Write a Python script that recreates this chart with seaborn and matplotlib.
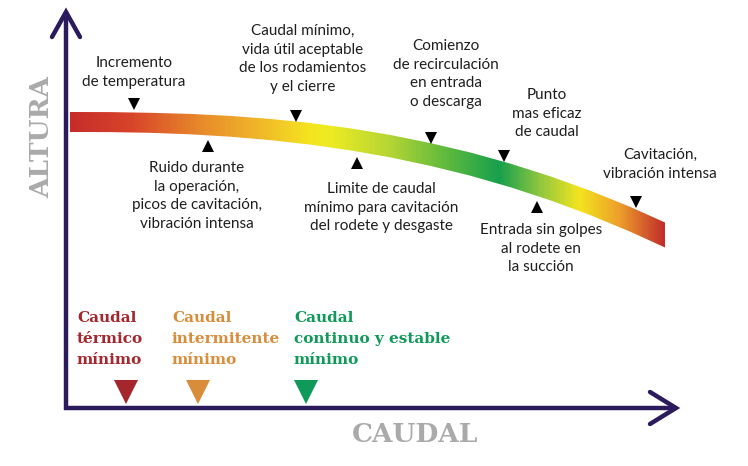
import numpy as np
import pandas as pd
import matplotlib.pyplot as plt
from matplotlib.colors import LinearSegmentedColormap
from matplotlib.patches import Polygon
import seaborn as sns

# curve of the pump (altura vs caudal), read in picture units
curve_x = [70, 110, 150, 190, 230, 270, 310, 350, 390, 430, 470, 510, 550, 590, 630, 665]
curve_y = [122, 122.1, 122.8, 124.1, 126.3, 129.5, 133.8, 139.3, 146.1, 154.4,
           164.0, 175.3, 188.2, 202.8, 219.2, 235]
band_half = [10, 10, 10, 10.2, 10.4, 10.6, 10.8, 11, 11.2, 11.4, 11.6, 11.8, 12, 12.2, 12.4, 12.5]

# colour stops along the curve (caudal position, colour)
grad_pos = [70, 130, 200, 260, 310, 330, 390, 440, 500, 540, 580, 620, 665]
grad_col = ["#c62d2b", "#d8442a", "#e88a2a", "#f0b82a", "#f5e41f", "#eeeb22",
            "#b5d534", "#68bd3c", "#17a04d", "#8cc63f", "#f3e51e", "#eda12a", "#c3302c"]

# notes on the curve
notes = ["Incremento\nde temperatura",
         "Caudal mínimo,\nvida útil aceptable\nde los rodamientos\ny el cierre",
         "Comienzo\nde recirculación\nen entrada\no descarga",
         "Punto\nmas eficaz\nde caudal",
         "Cavitación,\nvibración intensa",
         "Ruido durante\nla operación,\npicos de cavitación,\nvibración intensa",
         "Limite de caudal\nmínimo para cavitación\ndel rodete y desgaste",
         "Entrada sin golpes\nal rodete en\nla succión"]
note_x = [134, 303, 446, 547, 660, 197, 381, 541]
note_y = [56, 24, 39, 88, 148, 161, 182, 223]
marker_x = [134, 296, 431, 504, 636, 208, 357, 537]
marker_y = [104, 116, 138, 156, 202, 146, 163, 207]
marker_dir = ["v", "v", "v", "v", "v", "^", "^", "^"]

# minimum flow marks on the caudal axis
flow_labels = ["Caudal\ntérmico\nmínimo", "Caudal\nintermitente\nmínimo",
               "Caudal\ncontinuo y estable\nmínimo"]
flow_text_x = [77, 172, 294]
flow_x = [126, 198, 306]
flow_colors = ["#a3272d", "#d98c3a", "#0f9a5a"]

AXIS_COLOR = "#2b1a5c"
ORIGIN = (66, 408)
Y_TOP = 12
X_RIGHT = 676


def main():
    sns.set_theme(style="white")
    plt.rcParams['font.family'] = ['Lato', 'DejaVu Sans']

    fig = plt.figure(figsize=(7.48, 4.66), dpi=100)
    ax = fig.add_axes([0, 0, 1, 1])

    # gradient band
    cx = np.array(curve_x, dtype=float)
    cy = np.array(curve_y, dtype=float)
    hw = np.array(band_half, dtype=float)
    verts = list(zip(cx, cy - hw)) + list(zip(cx[::-1], (cy + hw)[::-1]))
    band = Polygon(verts, closed=True, facecolor="none", edgecolor="none")
    ax.add_patch(band)
    stops = [(p - grad_pos[0]) / (grad_pos[-1] - grad_pos[0]) for p in grad_pos]
    cmap = LinearSegmentedColormap.from_list("curve", list(zip(stops, grad_col)))
    grad = np.linspace(0, 1, 600).reshape(1, -1)
    im = ax.imshow(grad, cmap=cmap, aspect="auto",
                   extent=(grad_pos[0], grad_pos[-1], 270, 100))
    im.set_clip_path(band)

    # axes with open arrow heads
    ox, oy = ORIGIN
    ax.plot([ox, ox], [oy + 2, Y_TOP], color=AXIS_COLOR, lw=3.2, solid_capstyle="butt")
    ax.plot([ox - 14, ox, ox + 14], [Y_TOP + 25, Y_TOP, Y_TOP + 25], color=AXIS_COLOR,
            lw=3.2, solid_joinstyle="miter", solid_capstyle="round")
    ax.plot([ox - 1.5, X_RIGHT], [oy, oy], color=AXIS_COLOR, lw=3.2, solid_capstyle="butt")
    ax.plot([X_RIGHT - 26, X_RIGHT, X_RIGHT - 26], [oy - 16, oy, oy + 16], color=AXIS_COLOR,
            lw=3.2, solid_joinstyle="miter", solid_capstyle="round")

    # black markers on the curve
    df = pd.DataFrame({"x": marker_x, "y": marker_y, "dir": marker_dir})
    sns.scatterplot(data=df, x="x", y="y", style="dir", markers={"v": "v", "^": "^"},
                    color="black", s=75, linewidth=0, legend=False, ax=ax, zorder=5)

    for txt, x, y in zip(notes, note_x, note_y):
        ax.text(x, y, txt, ha="center", va="top", fontsize=11, color="#1e1e1e",
                linespacing=1.42)

    # flow marks on the x axis
    fdf = pd.DataFrame({"x": flow_x, "y": [392] * 3, "lab": flow_labels})
    sns.scatterplot(data=fdf, x="x", y="y", hue="lab", palette=flow_colors, marker="v",
                    s=300, linewidth=0, legend=False, ax=ax, zorder=5)
    for txt, x, c in zip(flow_labels, flow_text_x, flow_colors):
        ax.text(x, 311, txt, ha="left", va="top", fontsize=11, color=c,
                family="DejaVu Serif", fontweight="bold", linespacing=1.62)

    ax.text(415, 434, "CAUDAL", ha="center", va="center", fontsize=19, color="#aaaaaa",
            family="DejaVu Serif", fontweight="bold")
    ax.text(42, 137, "ALTURA", ha="center", va="center", fontsize=19, color="#aaaaaa",
            family="DejaVu Serif", fontweight="bold", rotation=90)

    ax.set_xlim(0, 748)
    ax.set_ylim(466, 0)
    ax.axis("off")
    fig.savefig("out.png", dpi=100)


if __name__ == "__main__":
    main()
